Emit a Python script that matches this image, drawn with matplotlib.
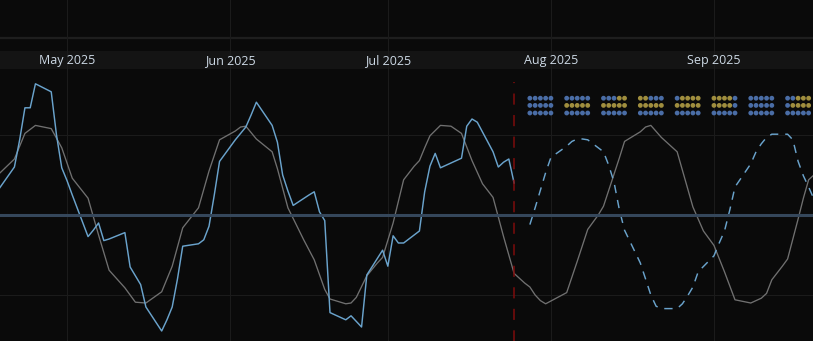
import matplotlib
matplotlib.use('Agg')
import matplotlib.pyplot as plt
import matplotlib.dates as mdates
import pandas as pd
import numpy as np

plt.rcParams['lines.scale_dashes'] = False
plt.rcParams['font.family'] = ['Open Sans', 'DejaVu Sans']

BG = '#0a0a0a'
GRID = '#1b1b1b'

# smoothed reference cycle (grey)
gray_dates = ['2025-04-18', '2025-04-21', '2025-04-23', '2025-04-25', '2025-04-28', '2025-04-30',
              '2025-05-02', '2025-05-05', '2025-05-07', '2025-05-09', '2025-05-12', '2025-05-14',
              '2025-05-16', '2025-05-19', '2025-05-21', '2025-05-23', '2025-05-26', '2025-05-28',
              '2025-05-30', '2025-06-02', '2025-06-03', '2025-06-04', '2025-06-06', '2025-06-09',
              '2025-06-10', '2025-06-12', '2025-06-15', '2025-06-17', '2025-06-19', '2025-06-20',
              '2025-06-23', '2025-06-24', '2025-06-25', '2025-06-27', '2025-06-29', '2025-06-30',
              '2025-07-02', '2025-07-04', '2025-07-06', '2025-07-07', '2025-07-08', '2025-07-09',
              '2025-07-11', '2025-07-13', '2025-07-15', '2025-07-17', '2025-07-19', '2025-07-21',
              '2025-07-23', '2025-07-25', '2025-07-27', '2025-07-28', '2025-07-29', '2025-07-30',
              '2025-07-31', '2025-08-04', '2025-08-06', '2025-08-08', '2025-08-10', '2025-08-11',
              '2025-08-14', '2025-08-15', '2025-08-17', '2025-08-18', '2025-08-19', '2025-08-20',
              '2025-08-22', '2025-08-24', '2025-08-25', '2025-08-28', '2025-08-30', '2025-09-01',
              '2025-09-03', '2025-09-05', '2025-09-08', '2025-09-10', '2025-09-11', '2025-09-12',
              '2025-09-14', '2025-09-15', '2025-09-17', '2025-09-18', '2025-09-19', '2025-09-20']
gray_vals = [0.51, 0.70, 1.02, 1.12, 1.08, 0.84,
             0.46, 0.21, -0.25, -0.69, -0.91, -1.09,
             -1.10, -0.96, -0.64, -0.16, 0.09, 0.55,
             0.94, 1.05, 1.10, 1.11, 0.95, 0.79,
             0.58, 0.09, -0.31, -0.56, -0.93, -1.05,
             -1.11, -1.10, -1.03, -0.76, -0.60, -0.53,
             -0.10, 0.44, 0.61, 0.68, 0.84, 0.99,
             1.12, 1.11, 1.02, 0.68, 0.39, 0.22,
             -0.27, -0.73, -0.85, -0.90, -1.00, -1.07,
             -1.11, -0.97, -0.58, -0.18, 0.00, 0.11,
             0.71, 0.92, 1.00, 1.04, 1.10, 1.12,
             0.97, 0.85, 0.79, 0.10, -0.20, -0.38,
             -0.71, -1.06, -1.10, -1.04, -0.98, -0.81,
             -0.64, -0.55, -0.05, 0.21, 0.44, 0.50]

# observed series (business days)
obs_dates = ['2025-04-18', '2025-04-21', '2025-04-22', '2025-04-23', '2025-04-24', '2025-04-25',
             '2025-04-28', '2025-04-29', '2025-04-30', '2025-05-01', '2025-05-02', '2025-05-05',
             '2025-05-06', '2025-05-07', '2025-05-08', '2025-05-09', '2025-05-12', '2025-05-13',
             '2025-05-14', '2025-05-15', '2025-05-16', '2025-05-19', '2025-05-20', '2025-05-21',
             '2025-05-22', '2025-05-23', '2025-05-26', '2025-05-27', '2025-05-28', '2025-05-29',
             '2025-05-30', '2025-06-02', '2025-06-03', '2025-06-04', '2025-06-05', '2025-06-06',
             '2025-06-09', '2025-06-10', '2025-06-11', '2025-06-12', '2025-06-13', '2025-06-16',
             '2025-06-17', '2025-06-18', '2025-06-19', '2025-06-20', '2025-06-23', '2025-06-24',
             '2025-06-25', '2025-06-26', '2025-06-27', '2025-06-30', '2025-07-01', '2025-07-02',
             '2025-07-03', '2025-07-04', '2025-07-07', '2025-07-08', '2025-07-09', '2025-07-10',
             '2025-07-11', '2025-07-14', '2025-07-15', '2025-07-16', '2025-07-17', '2025-07-18',
             '2025-07-21', '2025-07-22', '2025-07-23', '2025-07-24', '2025-07-25']
obs_vals = [0.32, 0.60, 0.94, 1.34, 1.34, 1.64,
            1.54, 1.00, 0.59, 0.43, 0.25, -0.27,
            -0.19, -0.10, -0.32, -0.30, -0.22, -0.65,
            -0.76, -0.87, -1.15, -1.45, -1.31, -1.15,
            -0.80, -0.39, -0.36, -0.31, -0.14, 0.25,
            0.67, 0.94, 1.02, 1.10, 1.25, 1.41,
            1.12, 0.91, 0.50, 0.30, 0.12, 0.25,
            0.29, 0.04, -0.07, -1.22, -1.31, -1.26,
            -1.33, -1.40, -0.75, -0.44, -0.64, -0.26,
            -0.35, -0.35, -0.20, 0.29, 0.61, 0.77,
            0.59, 0.68, 0.71, 1.11, 1.20, 1.16,
            0.79, 0.60, 0.66, 0.70, 0.40]

# projection (dashed)
proj_dates = ['2025-07-28', '2025-07-29', '2025-07-30', '2025-07-31', '2025-08-01', '2025-08-04',
              '2025-08-05', '2025-08-06', '2025-08-07', '2025-08-08', '2025-08-11', '2025-08-12',
              '2025-08-13', '2025-08-14', '2025-08-15', '2025-08-18', '2025-08-19', '2025-08-20',
              '2025-08-21', '2025-08-22', '2025-08-25', '2025-08-26', '2025-08-27', '2025-08-28',
              '2025-08-29', '2025-09-01', '2025-09-02', '2025-09-03', '2025-09-04', '2025-09-05',
              '2025-09-08', '2025-09-09', '2025-09-10', '2025-09-11', '2025-09-12', '2025-09-15',
              '2025-09-16', '2025-09-17', '2025-09-18', '2025-09-19', '2025-09-22']
proj_vals = [-0.12, 0.09, 0.31, 0.53, 0.72, 0.86,
             0.92, 0.95, 0.95, 0.94, 0.79, 0.62,
             0.41, 0.07, -0.19, -0.60, -0.80, -1.00,
             -1.14, -1.17, -1.17, -1.11, -1.01, -0.90,
             -0.71, -0.51, -0.35, -0.20, 0.06, 0.35,
             0.64, 0.79, 0.89, 0.97, 1.01, 1.01,
             0.94, 0.67, 0.49, 0.35, -0.10]

cutoff_date = '2025-07-25'

# weekly signal matrix: one dot per weekday, three rows (B = blue, Y = yellow)
week_starts = ['2025-07-28', '2025-08-04', '2025-08-11', '2025-08-18',
               '2025-08-25', '2025-09-01', '2025-09-08', '2025-09-15']
signal_row1 = ['BBBBB', 'BBBBB', 'BBBYY', 'YYBBB', 'BYYYY', 'YYYYB', 'BBBBB', 'BBYYY']
signal_row2 = ['BBBBB', 'YYYYY', 'YYYYY', 'YYYYY', 'YYYYY', 'YYYYB', 'BBBBB', 'BYYYY']
signal_row3 = ['BBBBB', 'BBBBB', 'BBBBB', 'BBBBB', 'BBBBB', 'BBBBB', 'BBBBB', 'BBBBB']
signal_levels = [1.46, 1.37, 1.275]

month_labels = ['May 2025', 'Jun 2025', 'Jul 2025', 'Aug 2025', 'Sep 2025']
month_starts = ['2025-05-01', '2025-06-01', '2025-07-01', '2025-08-01', '2025-09-01']

fig = plt.figure(figsize=(8.13, 3.41), dpi=100, facecolor=BG)
ax = fig.add_axes([0, 0, 1, 1])
ax.set_facecolor(BG)
for s in ax.spines.values():
    s.set_visible(False)
ax.set_xticks([])
ax.set_yticks([])

may1 = pd.Timestamp('2025-05-01')
ax.set_xlim(mdates.date2num(may1 - pd.Timedelta(days=12.74)),
            mdates.date2num(may1 + pd.Timedelta(days=141.83)))
ax.set_ylim(-1.575, 2.6875)

# grid
for m in month_starts:
    ax.axvline(pd.Timestamp(m), color=GRID, lw=0.8, zorder=1.5)
for lv in [1, -1]:
    ax.axhline(lv, color=GRID, lw=0.8, zorder=1)
ax.axhline(2.2125, color='#1e1e1e', lw=1.6, zorder=1)

# label band
ax.axhspan(1.825, 2.05, color='#141414', lw=0, zorder=1.2)
for lab, m in zip(month_labels, month_starts):
    ax.text(pd.Timestamp(m), 1.93, lab, color='#cdd9e5', fontsize=9,
            ha='center', va='center', zorder=5)

# series
ax.plot(pd.to_datetime(gray_dates), gray_vals, color='#707070', lw=0.95, zorder=2)
ax.plot(pd.to_datetime(obs_dates), obs_vals, color='#6aa3cc', lw=1.05, zorder=3)
ax.plot(pd.to_datetime(proj_dates), proj_vals, color='#6aa3cc', lw=1.05, zorder=3,
        linestyle=(0, (6, 5)))

# zero line
ax.axhline(0, color='#35475b', lw=2.2, zorder=4)

# cutoff marker
cut = pd.Timestamp(cutoff_date)
ax.plot([cut, cut], [1.66, -1.575], color='#7e0c0c', lw=1.1, zorder=3.5,
        linestyle=(7.2, (8, 7.5)))

# signal dots
colors = {'B': '#4a6da6', 'Y': '#a08e3e'}
for level, row in zip(signal_levels, [signal_row1, signal_row2, signal_row3]):
    for ws, pattern in zip(week_starts, row):
        days = pd.date_range(ws, periods=5, freq='D')
        ax.scatter(days, [level] * 5, s=12, c=[colors[p] for p in pattern],
                   linewidths=0, zorder=5)

fig.savefig('out.png', dpi=100, facecolor=BG)
